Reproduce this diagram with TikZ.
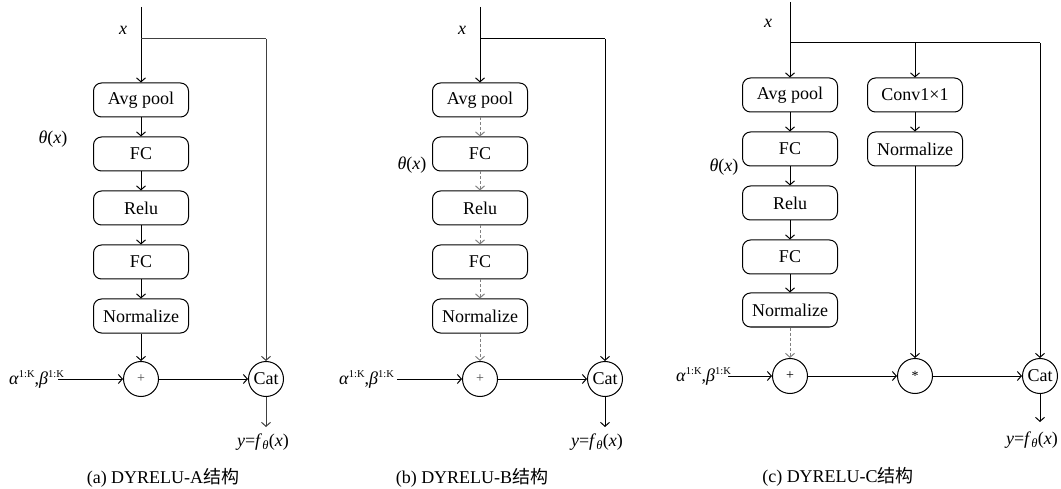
\documentclass[tikz,border=0pt]{standalone}
\usepackage{fontspec}
\setmainfont{Liberation Serif}
\newfontfamily\cjk{Noto Sans CJK SC}
\usetikzlibrary{arrows.meta}
\newcommand{\supK}{\raisebox{6.5pt}{\fontsize{10.5}{11}\selectfont 1:K}}
\newcommand{\alphabeta}{\textit{α}\supK,\textit{β}\supK}
\begin{document}
\begin{tikzpicture}[x=1pt,y=-1pt,
  every node/.style={font=\fontsize{18}{20}\selectfont},
  blk/.style={draw, rounded corners=8pt, minimum width=95pt, minimum height=34pt, inner sep=0pt, line width=1pt},
  op/.style={draw, circle, minimum size=35pt, inner sep=0pt, line width=1pt},
  flow/.style={line width=1pt, -{Straight Barb[length=4pt,width=9pt]}},
  dflow/.style={flow, densely dashed, gray},
  link/.style={line width=1pt},
  side/.style={black!75},
  lbl/.style={inner sep=0pt}]
\useasboundingbox (0,0) rectangle (1061,489);

% ---------- (a) ----------
\coordinate (aTop) at (141,7);
\coordinate (aSplit) at (141,39);
\coordinate (aCorner) at (266,39);
\coordinate (aIn) at (58,379);
\coordinate (aOut) at (266,427);
\node[blk] (aPool) at (141,100) {Avg pool};
\node[blk] (aFCa) at (141,154) {FC};
\node[blk] (aRelu) at (141,208) {Relu};
\node[blk] (aFCb) at (141,262) {FC};
\node[blk] (aNorm) at (141,316) {Normalize};
\node[op] (aAdd) at (141,379) {\fontsize{14}{16}\selectfont\color{black!70}+};
\node[op] (aCat) at (266,379) {Cat};
\node[lbl] (aX) at (123,30) {\textit{x}};
\node[lbl] (aTheta) at (53,139) {\textit{θ}(\textit{x})};
\node[lbl, anchor=base west] (aAB) at (9,384) {\alphabeta};
\node[lbl] (aY) at (263,442) {\textit{y}=\textit{f}\textsubscript{\textit{θ}}(\textit{x})};
\node[lbl] (aCap) at (163,478) {(a) DYRELU-A{\cjk 结构}};
\draw[flow] (aTop) -- (aPool);
\draw[flow] (aPool) -- (aFCa);
\draw[flow] (aFCa) -- (aRelu);
\draw[flow] (aRelu) -- (aFCb);
\draw[flow] (aFCb) -- (aNorm);
\draw[flow] (aNorm) -- (aAdd);
\draw[link, side] (aSplit) -- (aCorner);
\draw[flow, side] (aCorner) -- (aCat);
\draw[flow] (aIn) -- (aAdd);
\draw[flow] (aAdd) -- (aCat);
\draw[flow, side] (aCat) -- (aOut);

% ---------- (b) ----------
\coordinate (bTop) at (480,7);
\coordinate (bSplit) at (480,39);
\coordinate (bCorner) at (605,39);
\coordinate (bIn) at (397,379);
\coordinate (bOut) at (605,427);
\node[blk] (bPool) at (480,100) {Avg pool};
\node[blk] (bFCa) at (480,154) {FC};
\node[blk] (bRelu) at (480,208) {Relu};
\node[blk] (bFCb) at (480,262) {FC};
\node[blk] (bNorm) at (480,316) {Normalize};
\node[op] (bAdd) at (480,379) {\fontsize{14}{16}\selectfont\color{black!70}+};
\node[op] (bCat) at (605,379) {Cat};
\node[lbl] (bX) at (462,30) {\textit{x}};
\node[lbl] (bTheta) at (412,165) {\textit{θ}(\textit{x})};
\node[lbl, anchor=base west] (bAB) at (339,384) {\alphabeta};
\node[lbl] (bY) at (597,442) {\textit{y}=\textit{f}\textsubscript{\textit{θ}}(\textit{x})};
\node[lbl] (bCap) at (472,478) {(b) DYRELU-B{\cjk 结构}};
\draw[flow] (bTop) -- (bPool);
\draw[dflow] (bPool) -- (bFCa);
\draw[dflow] (bFCa) -- (bRelu);
\draw[dflow] (bRelu) -- (bFCb);
\draw[dflow] (bFCb) -- (bNorm);
\draw[dflow] (bNorm) -- (bAdd);
\draw[link] (bSplit) -- (bCorner);
\draw[flow] (bCorner) -- (bCat);
\draw[flow] (bIn) -- (bAdd);
\draw[flow] (bAdd) -- (bCat);
\draw[flow] (bCat) -- (bOut);

% ---------- (c) ----------
\coordinate (cTop) at (790,2);
\coordinate (cSplit) at (790,43);
\coordinate (cMid) at (915,43);
\coordinate (cCorner) at (1040,43);
\coordinate (cIn) at (728,376);
\coordinate (cOut) at (1040,422);
\node[blk] (cPool) at (790,95) {Avg pool};
\node[blk] (cFCa) at (790,149) {FC};
\node[blk] (cRelu) at (790,203) {Relu};
\node[blk] (cFCb) at (790,257) {FC};
\node[blk] (cNorm) at (790,310) {Normalize};
\node[blk] (cConv) at (915,95) {Conv1×1};
\node[blk] (cNormb) at (915,149) {Normalize};
\node[op] (cAdd) at (790,376) {\fontsize{14}{16}\selectfont +};
\node[op] (cMul) at (915,376) {\fontsize{14}{16}\selectfont *};
\node[op] (cCat) at (1040,376) {Cat};
\node[lbl] (cX) at (768,23) {\textit{x}};
\node[lbl] (cTheta) at (724,167) {\textit{θ}(\textit{x})};
\node[lbl, anchor=base west] (cAB) at (676,381) {\alphabeta};
\node[lbl] (cY) at (1032,440) {\textit{y}=\textit{f}\textsubscript{\textit{θ}}(\textit{x})};
\node[lbl] (cCap) at (838,477) {(c) DYRELU-C{\cjk 结构}};
\draw[flow] (cTop) -- (cPool);
\draw[flow] (cPool) -- (cFCa);
\draw[flow] (cFCa) -- (cRelu);
\draw[flow] (cRelu) -- (cFCb);
\draw[flow] (cFCb) -- (cNorm);
\draw[dflow] (cNorm) -- (cAdd);
\draw[link] (cSplit) -- (cCorner);
\draw[flow] (cMid) -- (cConv);
\draw[flow] (cConv) -- (cNormb);
\draw[flow] (cNormb) -- (cMul);
\draw[flow] (cCorner) -- (cCat);
\draw[flow] (cIn) -- (cAdd);
\draw[flow] (cAdd) -- (cMul);
\draw[flow] (cMul) -- (cCat);
\draw[flow] (cCat) -- (cOut);
\end{tikzpicture}
\end{document}
